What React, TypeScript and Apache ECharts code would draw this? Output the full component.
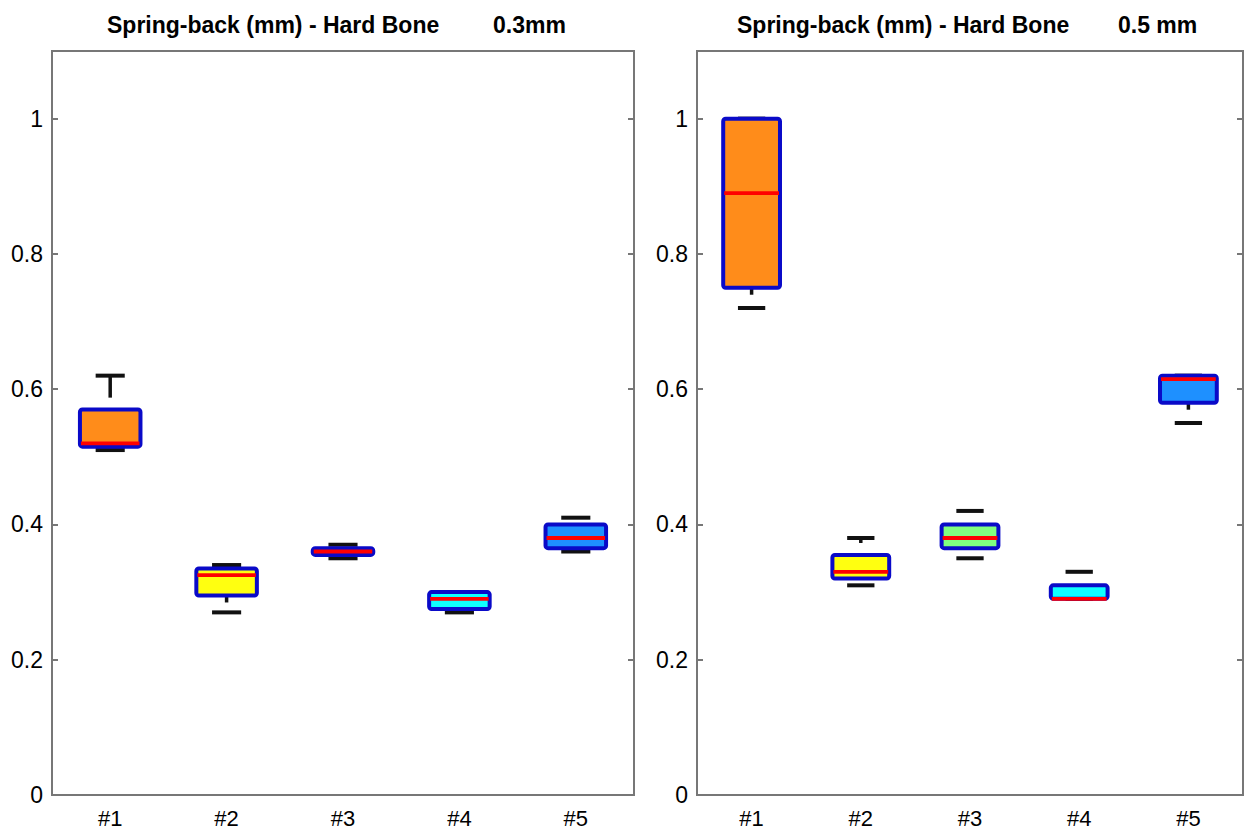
import React, { useEffect, useRef } from "react";
import * as echarts from "echarts";

const categories = ["#1", "#2", "#3", "#4", "#5"];
const yTicks = [0, 0.2, 0.4, 0.6, 0.8, 1];

// Panel 0.3 mm
const low03 = [0.51, 0.27, 0.35, 0.27, 0.36];
const q1_03 = [0.515, 0.295, 0.355, 0.275, 0.365];
const med03 = [0.52, 0.325, 0.36, 0.29, 0.38];
const q3_03 = [0.57, 0.335, 0.365, 0.3, 0.4];
const high03 = [0.62, 0.34, 0.37, 0.3, 0.41];

// Panel 0.5 mm
const low05 = [0.72, 0.31, 0.35, 0.29, 0.55];
const q1_05 = [0.75, 0.32, 0.365, 0.29, 0.58];
const med05 = [0.89, 0.33, 0.38, 0.29, 0.615];
const q3_05 = [1.0, 0.355, 0.4, 0.31, 0.62];
const high05 = [1.0, 0.38, 0.42, 0.33, 0.62];

const fillColors = ["#FF8C1A", "#FFFF10", "#80FF80", "#10FFFF", "#1E90FF"];
const FONT = "Liberation Sans, Arial, sans-serif";

function buildData(low: number[], q1: number[], med: number[], q3: number[], high: number[]) {
  return categories.map((_, i) => [i, low[i], q1[i], med[i], q3[i], high[i]]);
}

function renderBox(params: any, api: any) {
  const i = api.value(0);
  const band = api.size([1, 0])[0];
  const cx = api.coord([i, 0])[0];
  const yLow = api.coord([i, api.value(1)])[1];
  const yQ1 = api.coord([i, api.value(2)])[1];
  const yMed = api.coord([i, api.value(3)])[1];
  const yQ3 = api.coord([i, api.value(4)])[1];
  const yHigh = api.coord([i, api.value(5)])[1];
  const bw = band * 0.52;
  const cw = band * 0.25;
  const children: any[] = [];
  const black = { stroke: "#111", lineWidth: 4 };
  // lower whisker stub + cap
  if (yLow - yQ1 > 12) {
    children.push({
      type: "line",
      shape: { x1: cx, y1: yQ1, x2: cx, y2: yQ1 + 7 },
      style: { stroke: "#111", lineWidth: 3.5 },
    });
  }
  children.push({
    type: "line",
    shape: { x1: cx - cw / 2, y1: yLow, x2: cx + cw / 2, y2: yLow },
    style: black,
  });
  // upper whisker stub + cap
  if (yQ3 - yHigh > 15) {
    const stub = Math.min(22, (yQ3 - yHigh) * 0.65);
    children.push({
      type: "line",
      shape: { x1: cx, y1: yHigh, x2: cx, y2: yHigh + (yQ3 - yHigh > 25 ? stub : 5) },
      style: { stroke: "#111", lineWidth: 3.5 },
    });
  }
  children.push({
    type: "line",
    shape: { x1: cx - cw / 2, y1: yHigh, x2: cx + cw / 2, y2: yHigh },
    style: black,
  });
  // box
  children.push({
    type: "rect",
    shape: { x: cx - bw / 2, y: yQ3, width: bw, height: Math.max(yQ1 - yQ3, 1), r: 2.5 },
    style: { fill: fillColors[i], stroke: "#0A0AC8", lineWidth: 4 },
  });
  // median
  children.push({
    type: "line",
    shape: { x1: cx - bw / 2 + 1, y1: yMed, x2: cx + bw / 2 - 1, y2: yMed },
    style: { stroke: "#FF0000", lineWidth: 3.8 },
  });
  return { type: "group", children };
}

export default function App() {
  const ref = useRef<HTMLDivElement>(null);
  useEffect(() => {
    if (!ref.current) return;
    const chart = echarts.init(ref.current, null, { renderer: "svg" });
    const grids = [
      { left: 52, right: 1244 - 634, top: 51, bottom: 829 - 804 },
      { left: 697, right: 1, top: 51, bottom: 829 - 804 },
    ];
    const xAxes = grids.map((_, g) => ({
      type: "category",
      gridIndex: g,
      data: categories,
      axisTick: { show: false },
      axisLine: { show: true, lineStyle: { color: "#777", width: 2 } },
      axisLabel: { color: "#000", fontSize: 22, fontFamily: FONT, margin: 12 },
      splitLine: { show: false },
    }));
    const yAxes: any[] = [];
    grids.forEach((_, g) => {
      yAxes.push({
        type: "value",
        gridIndex: g,
        position: "left",
        min: 0,
        max: 1.1,
        interval: 0.2,
        axisLine: { show: true, lineStyle: { color: "#777", width: 2 } },
        axisTick: { show: true, inside: true, length: 6, lineStyle: { color: "#777", width: 2 } },
        axisLabel: {
          color: "#000",
          fontSize: 23,
          fontFamily: FONT,
          margin: 9,
          formatter: (v: number) => (yTicks.some((t) => Math.abs(t - v) < 1e-6) ? String(+v.toFixed(1)) : ""),
        },
        splitLine: { show: false },
      });
      yAxes.push({
        type: "value",
        gridIndex: g,
        position: "right",
        min: 0,
        max: 1.1,
        interval: 0.2,
        axisLine: { show: true, lineStyle: { color: "#777", width: 2 } },
        axisTick: { show: true, inside: true, length: 6, lineStyle: { color: "#777", width: 2 } },
        axisLabel: { show: false },
        splitLine: { show: false },
      });
    });
    const titleStyle = { fontFamily: FONT, fontWeight: "bold", fontSize: 23, color: "#000" };
    chart.setOption({
      animation: false,
      backgroundColor: "#fff",
      title: [
        { text: "Spring-back (mm) - Hard Bone", left: 107, top: 13, padding: 0, textStyle: titleStyle },
        { text: "0.3mm", left: 493, top: 13, padding: 0, textStyle: titleStyle },
        { text: "Spring-back (mm) - Hard Bone", left: 737, top: 13, padding: 0, textStyle: titleStyle },
        { text: "0.5 mm", left: 1118, top: 13, padding: 0, textStyle: titleStyle },
      ],
      grid: grids.map((g) => ({ ...g, show: true, borderColor: "#777", borderWidth: 2, backgroundColor: "#fff" })),
      xAxis: xAxes,
      yAxis: yAxes,
      series: [
        {
          type: "custom",
          xAxisIndex: 0,
          yAxisIndex: 0,
          renderItem: renderBox,
          encode: { x: 0, y: [1, 2, 3, 4, 5] },
          data: buildData(low03, q1_03, med03, q3_03, high03),
        },
        {
          type: "custom",
          xAxisIndex: 1,
          yAxisIndex: 2,
          renderItem: renderBox,
          encode: { x: 0, y: [1, 2, 3, 4, 5] },
          data: buildData(low05, q1_05, med05, q3_05, high05),
        },
      ],
    });
    return () => chart.dispose();
  }, []);
  return (
    <div
      ref={ref}
      style={{ position: "absolute", left: 0, top: 0, width: 1244, height: 829, background: "#fff" }}
    />
  );
}
